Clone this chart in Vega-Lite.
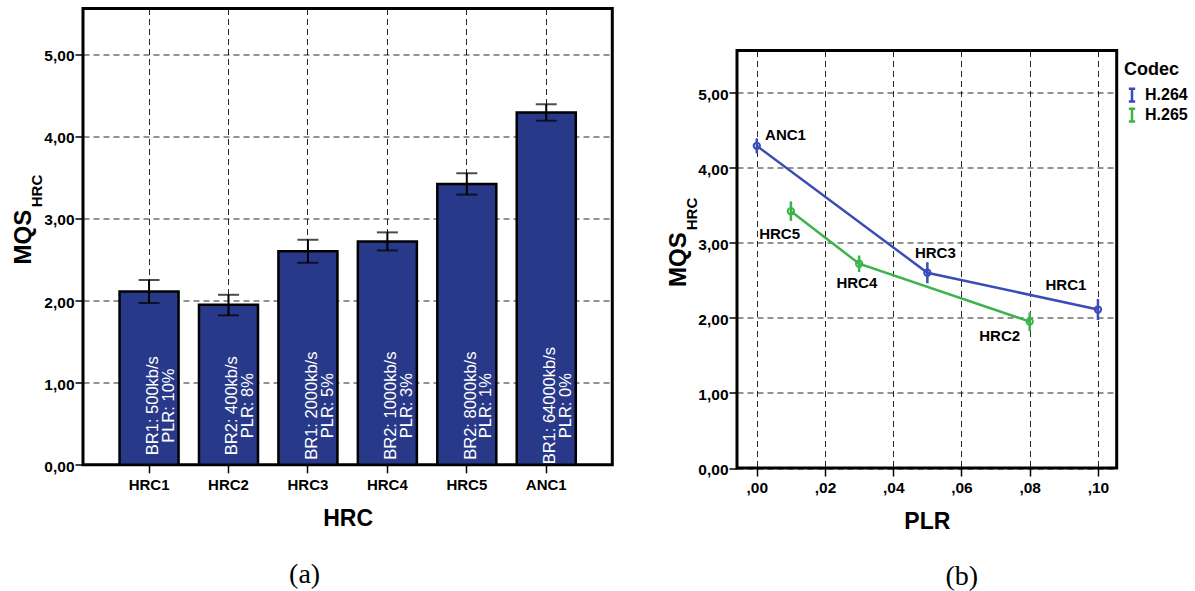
{
  "$schema": "https://vega.github.io/schema/vega-lite/v6.json",
  "background": "white",
  "padding": {"left": 10, "top": 6.5, "right": 5, "bottom": 2},
  "config": {
    "font": "Liberation Sans",
    "view": {"stroke": "black", "strokeWidth": 3},
    "axis": {
      "labelFont": "Liberation Sans", "labelFontWeight": "bold", "labelColor": "black",
      "titleFont": "Liberation Sans", "titleFontWeight": "bold", "titleColor": "black",
      "tickColor": "black", "tickWidth": 1.5, "tickSize": 8, "domain": false,
      "gridColor": "#000000", "gridDash": [6, 4], "gridWidth": 1, "gridOpacity": 0.85
    },
    "title": {"font": "Liberation Serif", "fontWeight": "normal", "fontSize": 28, "color": "black"}
  },
  "datasets": {
    "mqs": [
      {"hrc": "HRC1", "mqs": 2.11, "lo": 1.97, "hi": 2.25, "plr": 0.10, "codec": "H.264", "info": "BR1: 500kb/s\nPLR: 10%"},
      {"hrc": "HRC2", "mqs": 1.95, "lo": 1.82, "hi": 2.07, "plr": 0.08, "codec": "H.265", "info": "BR2: 400kb/s\nPLR: 8%"},
      {"hrc": "HRC3", "mqs": 2.60, "lo": 2.46, "hi": 2.74, "plr": 0.05, "codec": "H.264", "info": "BR1: 2000kb/s\nPLR: 5%"},
      {"hrc": "HRC4", "mqs": 2.72, "lo": 2.61, "hi": 2.83, "plr": 0.03, "codec": "H.265", "info": "BR2: 1000kb/s\nPLR: 3%"},
      {"hrc": "HRC5", "mqs": 3.42, "lo": 3.29, "hi": 3.55, "plr": 0.01, "codec": "H.265", "info": "BR2: 8000kb/s\nPLR: 1%"},
      {"hrc": "ANC1", "mqs": 4.29, "lo": 4.19, "hi": 4.39, "plr": 0.00, "codec": "H.264", "info": "BR1: 64000kb/s\nPLR: 0%"}
    ]
  },
  "spacing": 50,
  "hconcat": [
    {
      "width": 529.3,
      "height": 456.3,
      "data": {"name": "mqs"},
      "title": {"text": "(a)", "orient": "bottom", "anchor": "middle", "baseline": "alphabetic", "offset": 52, "dx": -43},
      "layer": [
        {
          "mark": {"type": "bar", "fill": "#29398a", "stroke": "black", "strokeWidth": 2.5},
          "encoding": {
            "x": {
              "field": "hrc", "type": "nominal",
              "sort": ["HRC1", "HRC2", "HRC3", "HRC4", "HRC5", "ANC1"],
              "scale": {"paddingInner": 0.257, "paddingOuter": 0.46},
              "axis": {
                "title": "HRC", "titleFontSize": 23, "titleY": 60.7, "titleBaseline": "alphabetic",
                "labelFontSize": 15, "labelAngle": 0, "labelBaseline": "alphabetic", "labelPadding": 17,
                "grid": true, "bandPosition": 0.5
              }
            },
            "y": {
              "field": "mqs", "type": "quantitative",
              "scale": {"domain": [0, 5.556], "nice": false},
              "axis": {
                "title": "MQS", "titleFontSize": 24, "titleAngle": 270, "titleBaseline": "alphabetic",
                "titleAlign": "center", "titleX": -52.2, "titleY": 228.2,
                "labelFontSize": 15.5, "labelPadding": 1, "labelOffset": 1.5,
                "values": [0, 1, 2, 3, 4, 5],
                "labelExpr": "replace(format(datum.value,'.2f'),'.',',')",
                "grid": true
              }
            }
          }
        },
        {
          "mark": {"type": "rule", "color": "black", "strokeWidth": 2},
          "encoding": {
            "x": {"field": "hrc", "type": "nominal", "sort": ["HRC1", "HRC2", "HRC3", "HRC4", "HRC5", "ANC1"], "axis": null},
            "y": {"field": "lo", "type": "quantitative", "axis": null},
            "y2": {"field": "hi"}
          }
        },
        {
          "mark": {"type": "tick", "color": "black", "thickness": 2, "size": 21, "orient": "horizontal"},
          "encoding": {
            "x": {"field": "hrc", "type": "nominal", "sort": ["HRC1", "HRC2", "HRC3", "HRC4", "HRC5", "ANC1"], "axis": null},
            "y": {"field": "lo", "type": "quantitative", "axis": null}
          }
        },
        {
          "mark": {"type": "tick", "color": "black", "thickness": 2, "size": 21, "orient": "horizontal"},
          "encoding": {
            "x": {"field": "hrc", "type": "nominal", "sort": ["HRC1", "HRC2", "HRC3", "HRC4", "HRC5", "ANC1"], "axis": null},
            "y": {"field": "hi", "type": "quantitative", "axis": null}
          }
        },
        {
          "mark": {"type": "text", "angle": 270, "align": "center", "baseline": "middle", "color": "white",
                   "font": "Liberation Sans", "fontSize": 16.5, "lineBreak": "\n", "lineHeight": 15.7, "dy": 4},
          "encoding": {
            "x": {"field": "hrc", "type": "nominal", "sort": ["HRC1", "HRC2", "HRC3", "HRC4", "HRC5", "ANC1"], "axis": null},
            "y": {"datum": 0.72, "type": "quantitative", "axis": null},
            "text": {"field": "info"}
          }
        },
        {
          "mark": {"type": "rule", "opacity": 0},
          "encoding": {
            "y": {
              "field": "mqs", "type": "quantitative",
              "axis": {
                "orient": "left", "title": "HRC", "titleFontSize": 15, "titleAngle": 270, "titleBaseline": "alphabetic",
                "titleAlign": "center", "titleX": -41.5, "titleY": 182,
                "labels": false, "ticks": false, "grid": false, "domain": false
              }
            }
          }
        }
      ],
      "resolve": {"axis": {"x": "independent", "y": "independent"}}
    },
    {
      "spacing": 0,
      "vconcat": [
        {
          "width": 10,
          "height": 39.3,
          "data": {"name": "mqs"},
          "view": {"stroke": null},
          "mark": {"type": "point", "opacity": 0},
          "encoding": {}
        },
        {
          "width": 379.7,
          "height": 417.5,
          "data": {"name": "mqs"},
          "title": {"text": "(b)", "orient": "bottom", "anchor": "middle", "baseline": "alphabetic", "offset": 52, "dx": 35},
          "layer": [
            {
              "mark": {"type": "rule", "strokeWidth": 2.5},
              "encoding": {
                "x": {
                  "field": "plr", "type": "quantitative",
                  "scale": {"domain": [-0.0058, 0.1055], "nice": false, "zero": false},
                  "axis": {
                    "title": "PLR", "titleFontSize": 23, "titleY": 60.2, "titleBaseline": "alphabetic",
                    "values": [0, 0.02, 0.04, 0.06, 0.08, 0.1],
                    "labelExpr": "replace(format(datum.value,'.2f'),'0.',',')",
                    "labelFontSize": 15.5, "labelBaseline": "alphabetic", "labelPadding": 16.5, "grid": true
                  }
                },
                "y": {
                  "field": "lo", "type": "quantitative",
                  "scale": {"domain": [0, 5.56], "nice": false},
                  "axis": {
                    "title": "MQS", "titleFontSize": 24, "titleAngle": 270, "titleBaseline": "alphabetic",
                    "titleAlign": "center", "titleX": -52, "titleY": 208.7,
                    "labelFontSize": 15.5, "labelPadding": 1, "labelOffset": 1.5,
                    "values": [0, 1, 2, 3, 4, 5],
                    "labelExpr": "replace(format(datum.value,'.2f'),'.',',')",
                    "grid": true
                  }
                },
                "y2": {"field": "hi"},
                "color": {"field": "codec", "type": "nominal", "legend": null,
                          "scale": {"domain": ["H.264", "H.265"], "range": ["#3b4cb8", "#3cb44a"]}}
              }
            },
            {
              "mark": {"type": "line", "strokeWidth": 2.5},
              "encoding": {
                "x": {"field": "plr", "type": "quantitative", "axis": null},
                "y": {"field": "mqs", "type": "quantitative", "axis": null},
                "color": {
                  "field": "codec", "type": "nominal",
                  "legend": {
                    "title": "Codec", "orient": "none", "legendX": 387, "legendY": 10.7, "padding": 0,
                    "titleFont": "Liberation Sans", "titleFontSize": 18, "titleFontWeight": "bold", "titleColor": "black", "titlePadding": 8,
                    "labelFont": "Liberation Sans", "labelFontSize": 16, "labelFontWeight": "bold", "labelColor": "black", "labelOffset": 5,
                    "symbolType": "M-0.5,-1H0.5M0,-1V1M-0.5,1H0.5", "symbolSize": 161, "symbolStrokeWidth": 2.5,
                    "rowPadding": -4.3
                  }
                }
              }
            },
            {
              "mark": {"type": "point", "filled": false, "size": 40, "strokeWidth": 2, "opacity": 1},
              "encoding": {
                "x": {"field": "plr", "type": "quantitative", "axis": null},
                "y": {"field": "mqs", "type": "quantitative", "axis": null},
                "color": {"field": "codec", "type": "nominal", "legend": null}
              }
            },
            {
              "transform": [{"filter": "datum.hrc == 'ANC1'"}],
              "mark": {"type": "text", "fontSize": 15, "fontWeight": "bold", "color": "black", "align": "left", "baseline": "alphabetic", "dx": 8.3, "dy": -6},
              "encoding": {"x": {"field": "plr", "type": "quantitative", "axis": null}, "y": {"field": "mqs", "type": "quantitative", "axis": null}, "text": {"field": "hrc"}}
            },
            {
              "transform": [{"filter": "datum.hrc == 'HRC5'"}],
              "mark": {"type": "text", "fontSize": 15, "fontWeight": "bold", "color": "black", "align": "center", "baseline": "alphabetic", "dx": -11.3, "dy": 27.7},
              "encoding": {"x": {"field": "plr", "type": "quantitative", "axis": null}, "y": {"field": "mqs", "type": "quantitative", "axis": null}, "text": {"field": "hrc"}}
            },
            {
              "transform": [{"filter": "datum.hrc == 'HRC4'"}],
              "mark": {"type": "text", "fontSize": 15, "fontWeight": "bold", "color": "black", "align": "center", "baseline": "alphabetic", "dx": -2.3, "dy": 24},
              "encoding": {"x": {"field": "plr", "type": "quantitative", "axis": null}, "y": {"field": "mqs", "type": "quantitative", "axis": null}, "text": {"field": "hrc"}}
            },
            {
              "transform": [{"filter": "datum.hrc == 'HRC3'"}],
              "mark": {"type": "text", "fontSize": 15, "fontWeight": "bold", "color": "black", "align": "center", "baseline": "alphabetic", "dx": 8, "dy": -14.3},
              "encoding": {"x": {"field": "plr", "type": "quantitative", "axis": null}, "y": {"field": "mqs", "type": "quantitative", "axis": null}, "text": {"field": "hrc"}}
            },
            {
              "transform": [{"filter": "datum.hrc == 'HRC1'"}],
              "mark": {"type": "text", "fontSize": 15, "fontWeight": "bold", "color": "black", "align": "center", "baseline": "alphabetic", "dx": -32, "dy": -20},
              "encoding": {"x": {"field": "plr", "type": "quantitative", "axis": null}, "y": {"field": "mqs", "type": "quantitative", "axis": null}, "text": {"field": "hrc"}}
            },
            {
              "transform": [{"filter": "datum.hrc == 'HRC2'"}],
              "mark": {"type": "text", "fontSize": 15, "fontWeight": "bold", "color": "black", "align": "center", "baseline": "alphabetic", "dx": -30, "dy": 19.6},
              "encoding": {"x": {"field": "plr", "type": "quantitative", "axis": null}, "y": {"field": "mqs", "type": "quantitative", "axis": null}, "text": {"field": "hrc"}}
            },
            {
              "mark": {"type": "rule", "opacity": 0},
              "encoding": {
                "y": {
                  "field": "mqs", "type": "quantitative",
                  "axis": {
                    "orient": "left", "title": "HRC", "titleFontSize": 15, "titleAngle": 270, "titleBaseline": "alphabetic",
                    "titleAlign": "center", "titleX": -41, "titleY": 163,
                    "labels": false, "ticks": false, "grid": false, "domain": false
                  }
                }
              }
            }
          ],
          "resolve": {"axis": {"x": "independent", "y": "independent"}, "legend": {"color": "independent"}}
        }
      ]
    }
  ]
}
